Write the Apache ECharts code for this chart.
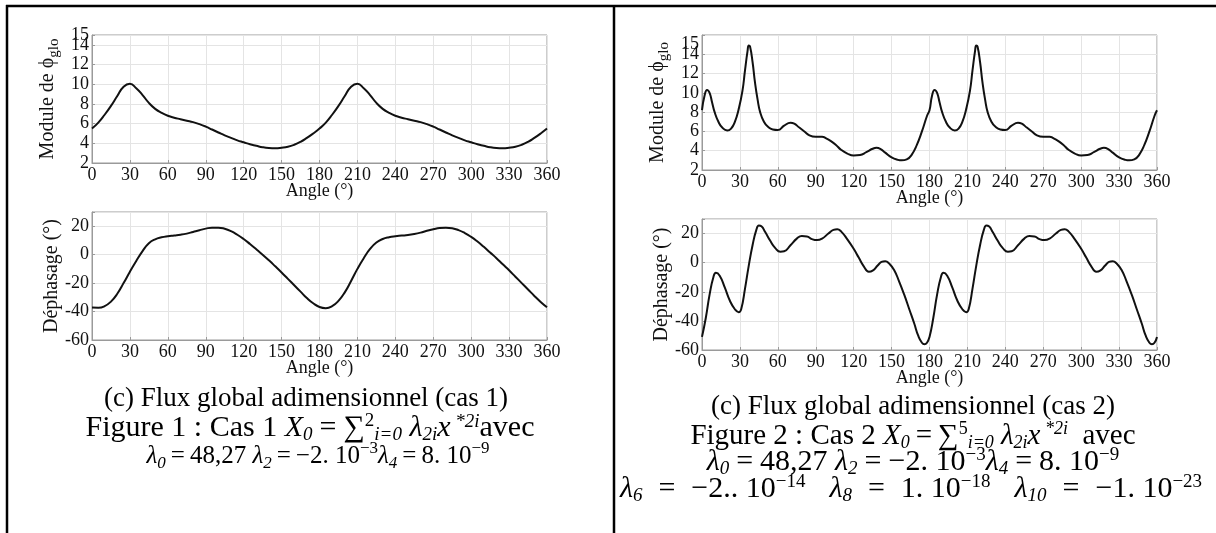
<!DOCTYPE html>
<html>
<head>
<meta charset="utf-8">
<script src="https://cdn.jsdelivr.net/npm/echarts@6/dist/echarts.min.js"></script>
<style>
  html, body { margin: 0; padding: 0; background: #fff; }
  #chart { width: 1216px; height: 533px; }
</style>
</head>
<body>
<div id="chart"></div>
<script>
// ---------------- DATA ----------------
// Cas 1 : module (every 5 degrees)
const cas1Angles = [0,5,10,15,20,25,30,35,40,45,50,55,60,65,70,75,80,85,90,95,100,105,110,115,120,125,130,135,140,145,150,155,160,165,170,175,180,
  185,190,195,200,205,210,215,220,225,230,235,240,245,250,255,260,265,270,275,280,285,290,295,300,305,310,315,320,325,330,335,340,345,350,355,360];
const cas1Module = [5.5,6.1,6.9,7.8,8.8,9.75,10.05,9.6,8.9,8.1,7.5,7.1,6.8,6.6,6.45,6.3,6.15,5.95,5.7,5.4,5.1,4.8,4.55,4.3,4.1,3.9,3.75,3.6,3.52,3.5,3.55,3.65,3.85,4.15,4.55,5.0,5.5,
  6.1,6.9,7.8,8.8,9.75,10.05,9.6,8.9,8.1,7.5,7.1,6.8,6.6,6.45,6.3,6.15,5.95,5.7,5.4,5.1,4.8,4.55,4.3,4.1,3.9,3.75,3.6,3.52,3.5,3.55,3.65,3.85,4.15,4.55,5.0,5.5];
const cas1Phase = [-37.2,-37.3,-36.2,-33,-27.5,-20,-12,-4.5,2.5,8,10.8,12.2,13,13.5,14,14.8,16,17.2,18.3,19,19,18.2,16.5,14,11,7.5,3.8,0,-4,-8.2,-12.5,-17,-21.5,-26,-30.5,-34.2,-36.8,
  -37.6,-36.2,-32.5,-26.5,-18.5,-10,-2.5,4,8.5,11,12.3,13,13.4,13.8,14.5,15.5,16.8,17.8,18.7,19,18.6,17.3,15.2,12.5,9.2,5.5,1.5,-2.5,-6.8,-11,-15.5,-20,-24.5,-29,-33.2,-37];

// Cas 2 : module
const cas2ModAngles = [0,2,4,6,8,10,13,16,20,23,26,29,32,34,36,37,38,40,42,44,46,49,52,56,60,65,70,73,77,81,85,90,95,98,102,106,110,115,120,125,130,135,138,141,145,150,155,158,162,166,170,174,178,180,
  182,184,186,188,190,193,196,200,203,206,209,212,214,216,217,218,220,222,224,226,229,232,236,240,245,250,253,257,261,265,270,275,278,282,286,290,295,300,305,310,315,318,321,325,330,335,338,342,346,350,354,358,360];
const cas2Module = [8.2,9.7,10.3,10.0,9.0,8.0,7.0,6.4,6.1,6.3,7.0,8.3,10.2,12.3,14.3,14.9,14.8,13.2,11.0,9.3,8.0,7.0,6.5,6.2,6.15,6.6,6.9,6.8,6.4,6.0,5.6,5.45,5.45,5.3,5.0,4.6,4.1,3.7,3.5,3.55,3.85,4.2,4.3,4.2,3.8,3.3,3.05,3.0,3.1,3.6,4.6,6.0,7.6,8.2,
  9.7,10.3,10.0,9.0,8.0,7.0,6.4,6.1,6.3,7.0,8.3,10.2,12.3,14.3,14.9,14.8,13.2,11.0,9.3,8.0,7.0,6.5,6.2,6.15,6.6,6.9,6.8,6.4,6.0,5.6,5.45,5.45,5.3,5.0,4.6,4.1,3.7,3.5,3.55,3.85,4.2,4.3,4.2,3.8,3.3,3.05,3.0,3.1,3.6,4.6,6.0,7.6,8.2];

// Cas 2 : dephasage
const cas2PhAngles = [0,3,6,9,11,14,18,22,26,29,31,34,37,40,43,45,47,50,54,58,62,65,70,75,79,83,87,91,95,100,104,107,110,115,120,124,128,132,135,139,142,145,148,152,156,160,164,168,171,174,176,178,180,
  183,186,189,191,194,198,202,206,209,211,214,217,220,223,225,227,230,234,238,242,245,250,255,259,263,267,271,275,280,284,287,290,295,300,304,308,312,315,319,322,325,328,332,336,340,344,348,351,354,356,358,360];
const cas2Phase = [-51,-38,-22,-10,-7,-9,-17,-26,-32,-34,-32,-18,-2,12,22.5,25.5,25,21,15,10,7.5,7.8,12,16.5,18.3,18,16.2,15.5,16.5,20,22.5,23,21.5,16,9.5,3.5,-2.5,-6.2,-5.5,-2,0.5,1,-0.5,-5,-13,-22,-32,-42,-50,-55,-56,-55,-51,
  -38,-22,-10,-7,-9,-17,-26,-32,-34,-32,-18,-2,12,22.5,25.5,25,21,15,10,7.5,7.8,12,16.5,18.3,18,16.2,15.5,16.5,20,22.5,23,21.5,16,9.5,3.5,-2.5,-6.2,-5.5,-2,0.5,1,-0.5,-5,-13,-22,-32,-42,-50,-55,-56,-55,-51];

const moduleLabels = [2, 4, 6, 8, 10, 12, 14];
const moduleExtraLabel = [15];
const phaseLabels = [-60, -40, -20, 0, 20];

// ---------------- STYLE / OPTION ----------------
const SERIF = "'Liberation Serif', 'Times New Roman', serif";
const grids = [
  { left: 92, top: 35, width: 455, height: 128 },
  { left: 92, top: 212, width: 455, height: 128 },
  { left: 702, top: 35, width: 455, height: 135 },
  { left: 702, top: 219, width: 455, height: 131 }
].map(g => Object.assign({ show: true, borderColor: '#9a9a9a', borderWidth: 1, backgroundColor: '#fff' }, g));

function xAx(i) {
  return {
    type: 'value', gridIndex: i, min: 0, max: 360, interval: 30,
    name: 'Angle (°)', nameLocation: 'middle', nameGap: 19, nameMoveOverlap: false,
    nameTextStyle: { fontFamily: SERIF, fontSize: 18, color: '#111', verticalAlign: 'top' },
    axisLine: { show: true, onZero: false, lineStyle: { color: '#9a9a9a', width: 1 } },
    axisTick: { show: true, inside: true, length: 3, lineStyle: { color: '#9a9a9a' } },
    axisLabel: { fontFamily: SERIF, fontSize: 18, color: '#111', margin: 3, showMinLabel: true, showMaxLabel: true },
    splitLine: { show: true, lineStyle: { color: '#e4e4e4', width: 1 } }
  };
}
function yAx(i, min, max, interval, labels, name) {
  return {
    type: 'value', gridIndex: i, min: min, max: max, interval: interval,
    name: name, nameLocation: 'middle', nameGap: 30, nameMoveOverlap: false,
    nameTextStyle: {
      fontFamily: SERIF, fontSize: 20, color: '#111', verticalAlign: 'bottom',
      rich: {
        a: { fontFamily: SERIF, fontSize: 20, color: '#111', lineHeight: 28, verticalAlign: 'middle' },
        b: { fontFamily: SERIF, fontSize: 15, color: '#111', lineHeight: 28, verticalAlign: 'bottom' }
      }
    },
    axisLine: { show: true, onZero: false, lineStyle: { color: '#9a9a9a', width: 1 } },
    axisTick: { show: true, inside: true, length: 3, lineStyle: { color: '#9a9a9a' } },
    axisLabel: { fontFamily: SERIF, fontSize: 18, color: '#111', margin: 3, customValues: labels,
                 showMinLabel: true, showMaxLabel: true, hideOverlap: false },
    splitLine: { show: true, lineStyle: { color: '#e4e4e4', width: 1 } }
  };
}
// extra label-only axis (for the "15" label that overlaps "14")
function yExtra(i, min, max, labels) {
  return {
    type: 'value', gridIndex: i, min: min, max: max, position: 'left', offset: 0,
    axisLine: { show: false }, axisTick: { show: false }, splitLine: { show: false },
    axisLabel: { fontFamily: SERIF, fontSize: 18, color: '#111', margin: 3, customValues: labels,
                 showMinLabel: true, showMaxLabel: true, hideOverlap: false }
  };
}

function pairs(a, v) { return a.map((x, k) => [x, v[k]]); }

function lineSeries(i, data) {
  return {
    type: 'line', xAxisIndex: i, yAxisIndex: i, data: data,
    showSymbol: false, smooth: 0.5, silent: true,
    lineStyle: { color: '#111', width: 2 }
  };
}

const FC = '#1a1f3a';
function makeRich(txt, fs, ss, eqPad, gapW) {
  return {
    n: { fontFamily: SERIF, fontSize: txt, color: '#000', lineHeight: 32 },
    m: { fontFamily: SERIF, fontStyle: 'italic', fontSize: fs, color: FC, lineHeight: 32 },
    mu: { fontFamily: SERIF, fontSize: fs, color: FC, lineHeight: 32 },
    eq: { fontFamily: SERIF, fontSize: fs, color: FC, lineHeight: 32, padding: [0, eqPad, 0, eqPad] },
    gap: { fontFamily: SERIF, fontSize: fs, color: FC, lineHeight: 32, width: gapW },
    sub: { fontFamily: SERIF, fontStyle: 'italic', fontSize: ss, color: FC, lineHeight: 14, verticalAlign: 'bottom' },
    sup: { fontFamily: SERIF, fontStyle: 'italic', fontSize: ss, color: FC, lineHeight: 14, verticalAlign: 'top' },
    supu: { fontFamily: SERIF, fontSize: ss, color: FC, lineHeight: 14, verticalAlign: 'top' }
  };
}
function cap(x, y, text, rich) {
  return { type: 'text', x: x, y: y, silent: true,
    style: { text: text, rich: rich, align: 'center', verticalAlign: 'middle',
             fontFamily: SERIF, fontSize: 27, fill: '#000' } };
}
function line(x1, y1, x2, y2) {
  return { type: 'line', silent: true, shape: { x1, y1, x2, y2 }, style: { stroke: '#000', lineWidth: 2.5 } };
}

const richTitle = makeRich(27, 27, 17, 6, 8);
const richFigL = makeRich(30, 30, 19, 7, 8);
const richFigR = makeRich(29, 29, 18, 6, 8);
const richLamL = makeRich(25, 25, 17, 5, 7);
const richLamR1 = makeRich(29, 30, 19, 7, 8);
const richLamR2 = makeRich(29, 30, 19, 16, 24);

const option = {
  backgroundColor: '#fff',
  animation: false,
  grid: grids,
  xAxis: [xAx(0), xAx(1), xAx(2), xAx(3)],
  yAxis: [
    yAx(0, 2, 15, 2, moduleLabels, '{a|Module de ϕ}{b|glo}'),
    yAx(1, -60, 30, 20, phaseLabels, 'Déphasage (°)'),
    yAx(2, 2, 16, 2, moduleLabels, '{a|Module de ϕ}{b|glo}'),
    yAx(3, -60, 30, 20, phaseLabels, 'Déphasage (°)'),
    yExtra(0, 2, 15, moduleExtraLabel),
    yExtra(2, 2, 16, moduleExtraLabel)
  ],
  series: [
    lineSeries(0, pairs(cas1Angles, cas1Module)),
    lineSeries(1, pairs(cas1Angles, cas1Phase)),
    lineSeries(2, pairs(cas2ModAngles, cas2Module)),
    lineSeries(3, pairs(cas2PhAngles, cas2Phase))
  ],
  graphic: [
    line(6, 6, 1216, 6),
    line(7, 5, 7, 533),
    line(614, 5, 614, 533),
    cap(306, 399, '{n|(c) Flux global adimensionnel (cas 1)}', richTitle),
    cap(310, 428, '{n|Figure 1 : Cas 1 }{m|X}{sub|0}{eq|=}{mu|∑}{supu|2}{sub|i=0}{m| λ}{sub|2i}{m|x}{sup| *2i}{n|avec}', richFigL),
    cap(318, 456, '{m|λ}{sub|0}{eq|=}{mu|48,27 }{m|λ}{sub|2}{eq|=}{mu|−2. 10}{supu|−3}{m|λ}{sub|4}{eq|=}{mu|8. 10}{supu|−9}', richLamL),
    cap(913, 407, '{n|(c) Flux global adimensionnel (cas 2)}', richTitle),
    cap(913, 436, '{n|Figure 2 : Cas 2 }{m|X}{sub|0}{eq|=}{mu|∑}{supu|5}{sub|i=0}{m| λ}{sub|2i}{m|x}{sup| *2i}{n|  avec}', richFigR),
    cap(913, 462, '{m|λ}{sub|0}{eq|=}{mu|48,27 }{m|λ}{sub|2}{eq|=}{mu|−2. 10}{supu|−3}{m|λ}{sub|4}{eq|=}{mu|8. 10}{supu|−9}', richLamR1),
    cap(911, 489, '{m|λ}{sub|6}{eq|=}{mu|−2.. 10}{supu|−14}{gap| }{m|λ}{sub|8}{eq|=}{mu|1. 10}{supu|−18}{gap| }{m|λ}{sub|10}{eq|=}{mu|−1. 10}{supu|−23}', richLamR2)
  ]
};

const chart = echarts.init(document.getElementById('chart'), null, { renderer: 'canvas' });
chart.setOption(option);
</script>
</body>
</html>
